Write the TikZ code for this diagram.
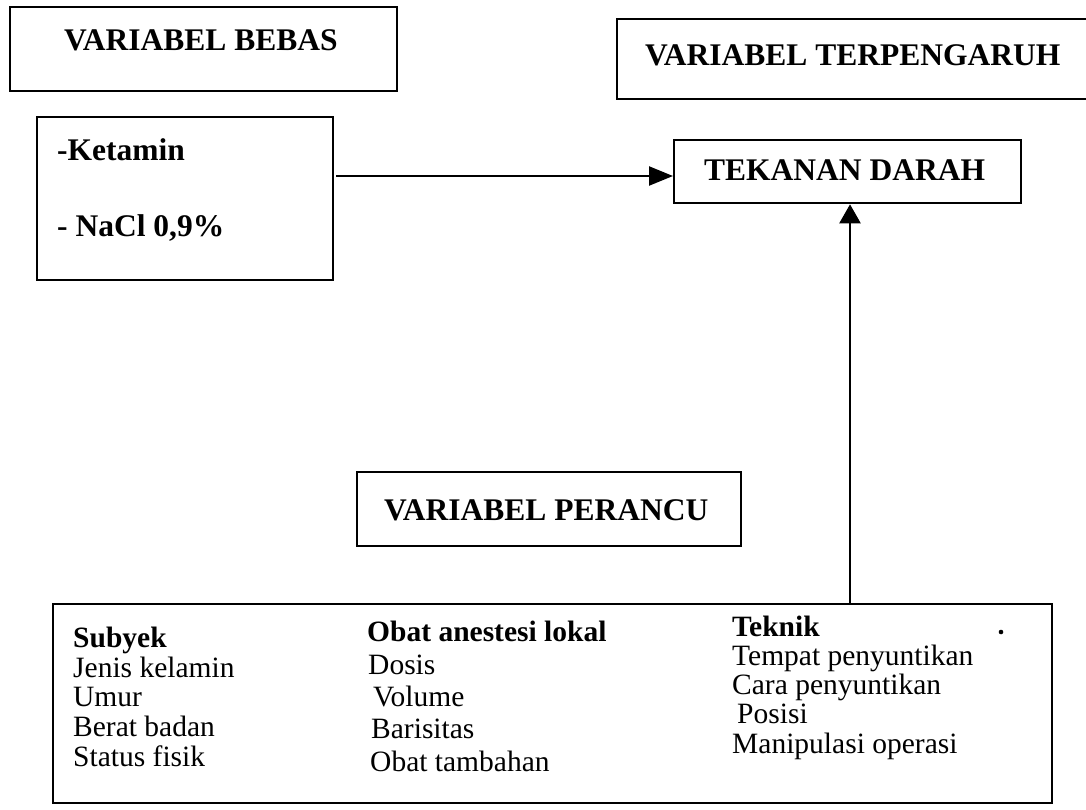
\documentclass[tikz,border=0pt]{standalone}
\usepackage{fontspec}
\setmainfont{Liberation Serif}
\usetikzlibrary{arrows.meta}
\begin{document}
\begin{tikzpicture}[x=1pt,y=-1pt,
  box/.style={draw, line width=2.3pt, inner sep=0pt, anchor=north west},
  head/.style={font=\fontsize{31.5}{31.5}\selectfont\bfseries, inner sep=0pt, anchor=base west},
  colhead/.style={font=\fontsize{29.5}{29.5}\selectfont\bfseries, inner sep=0pt, anchor=base west},
  item/.style={font=\fontsize{29.5}{29.5}\selectfont, inner sep=0pt, anchor=base west},
  harr/.style={line width=2.3pt, -{Triangle[length=24pt,width=19pt]}},
  varr/.style={line width=2.3pt, -{Triangle[length=19pt,width=21pt]}}]
\useasboundingbox (0,0) rectangle (1086,809);
\fill[white] (0,0) rectangle (1086,809);

% top-left heading box
\node[box, minimum width=387pt, minimum height=84pt] (vb) at (9,6) {};
\node[head] (vbt) at (64,50) {VARIABEL BEBAS};

% independent variables box
\node[box, minimum width=296pt, minimum height=163pt] (kt) at (36,116) {};
\node[head] (k1) at (57,160) {-Ketamin};
\node[head] (k2) at (57,236) {- NaCl 0,9\%};

% top-right heading box (runs past the page edge)
\node[box, minimum width=480pt, minimum height=80pt] (vt) at (616,18) {};
\node[head] (vtt) at (645,65) {VARIABEL TERPENGARUH};

% dependent variable box
\node[box, minimum width=347pt, minimum height=63pt] (td) at (673,139) {};
\node[head] (tdt) at (704,180) {TEKANAN DARAH};

% confounding heading box
\node[box, minimum width=384pt, minimum height=74pt] (vp) at (356,471) {};
\node[head] (vpt) at (384,520) {VARIABEL PERANCU};

% bottom box
\node[box, minimum width=999pt, minimum height=199pt] (bb) at (52,603) {};

% column 1
\node[colhead] (c1h) at (73,647) {Subyek};
\node[item] (c1a) at (73,677) {Jenis kelamin};
\node[item] (c1b) at (73,706) {Umur};
\node[item] (c1c) at (73,736) {Berat badan};
\node[item] (c1d) at (73,766) {Status fisik};

% column 2
\node[colhead] (c2h) at (367,641) {Obat anestesi lokal};
\node[item] (c2a) at (368,674) {Dosis};
\node[item] (c2b) at (373,706) {Volume};
\node[item] (c2c) at (371,738) {Barisitas};
\node[item] (c2d) at (370,771) {Obat tambahan};

% column 3
\node[colhead] (c3h) at (732,636) {Teknik};
\node[item] (c3a) at (732,665) {Tempat penyuntikan};
\node[item] (c3b) at (732,694) {Cara penyuntikan};
\node[item] (c3c) at (737,723) {Posisi};
\node[item] (c3d) at (732,753) {Manipulasi operasi};
\fill (1001,632) circle (2.3pt);

% connectors
\coordinate (hs) at (336,176);
\draw[harr] (hs) -- (hs -| td.west);
\coordinate (vs) at (850,603);
\draw[varr] (vs) -- (vs |- td.south);
\end{tikzpicture}
\end{document}
